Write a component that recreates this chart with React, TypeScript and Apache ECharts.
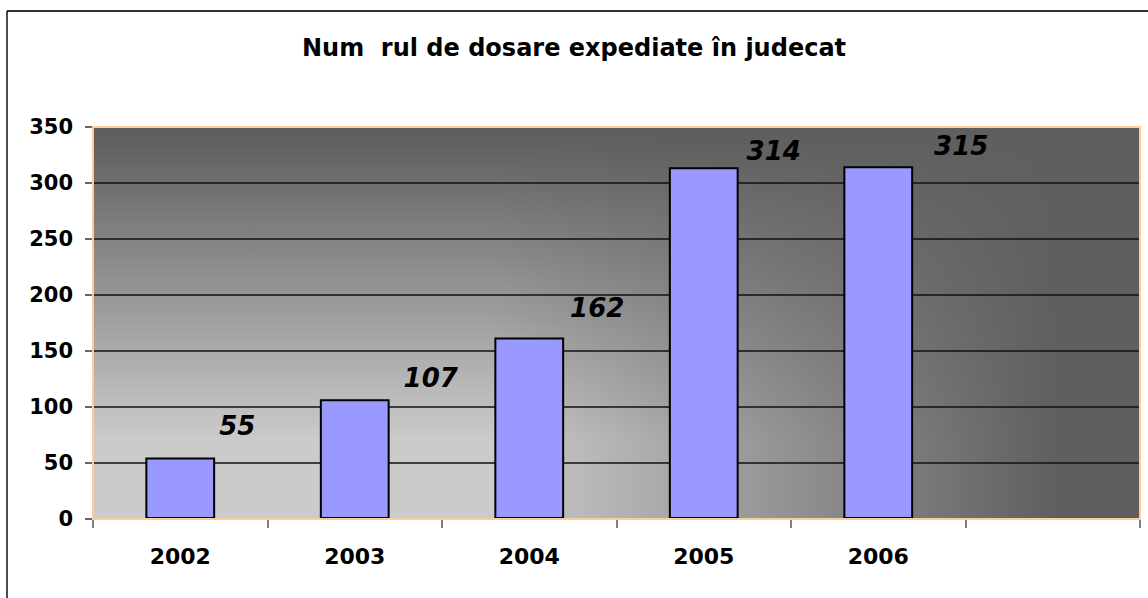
import React, { useEffect, useRef } from "react";
import * as echarts from "echarts";

const titleText = "Num  rul de dosare expediate în judecat";
const categories = ["2002", "2003", "2004", "2005", "2006", ""];
const values = [55, 107, 162, 314, 315];
const yTicks = { min: 0, max: 350, interval: 50 };
// manual label placement offsets (styling, as in the original chart)
const labelOffsets = [
  [57, -31],
  [76, -21],
  [68, -30],
  [70, -16],
  [83, -20],
];

const GRID = { left: 93, top: 127, right: 8, bottom: 79 };
const W = 1148;
const H = 598;

export default function App() {
  const ref = useRef<HTMLDivElement>(null);
  useEffect(() => {
    document.body.style.margin = "0";
    const chart = echarts.init(ref.current!, null, { renderer: "svg" });
    const gx = GRID.left;
    const gy = GRID.top;
    const gw = W - GRID.left - GRID.right;
    const gh = H - GRID.top - GRID.bottom;
    const dark = "95,95,95";
    chart.setOption({
      animation: false,
      backgroundColor: "#ffffff",
      title: {
        text: titleText,
        left: "center",
        top: 31,
        textStyle: {
          fontFamily: "DejaVu Sans",
          fontWeight: "bold",
          fontSize: 24,
          color: "#000",
        },
      },
      graphic: [
        {
          type: "rect",
          z: -10,
          silent: true,
          shape: { x: gx, y: gy, width: gw, height: gh },
          style: { fill: "#cbcbcb" },
        },
        {
          type: "rect",
          z: -9,
          silent: true,
          shape: { x: gx, y: gy, width: gw, height: gh },
          style: {
            fill: {
              type: "linear",
              x: 0,
              y: 1,
              x2: 0,
              y2: 0,
              colorStops: [
                { offset: 0, color: `rgba(${dark},0)` },
                { offset: 0.2, color: `rgba(${dark},0)` },
                { offset: 0.97, color: `rgba(${dark},1)` },
                { offset: 1, color: `rgba(${dark},1)` },
              ],
            },
          },
        },
        {
          type: "rect",
          z: -8,
          silent: true,
          shape: { x: gx, y: gy, width: gw, height: gh },
          style: {
            fill: {
              type: "linear",
              x: 0,
              y: 0,
              x2: 1,
              y2: 0,
              colorStops: [
                { offset: 0, color: `rgba(${dark},0)` },
                { offset: 0.38, color: `rgba(${dark},0)` },
                { offset: 0.92, color: `rgba(${dark},1)` },
                { offset: 1, color: `rgba(${dark},1)` },
              ],
            },
          },
        },
        {
          type: "line",
          z: 10,
          silent: true,
          shape: { x1: 7, y1: 11, x2: W, y2: 11 },
          style: { stroke: "#333", lineWidth: 2 },
        },
        {
          type: "line",
          z: 10,
          silent: true,
          shape: { x1: 7, y1: 11, x2: 7, y2: H },
          style: { stroke: "#111", lineWidth: 1.5 },
        },
      ],
      grid: {
        left: GRID.left,
        top: GRID.top,
        right: GRID.right,
        bottom: GRID.bottom,
        show: true,
        z: 5,
        borderColor: "#ffcc99",
        borderWidth: 2,
        backgroundColor: "transparent",
      },
      xAxis: {
        type: "category",
        data: categories,
        boundaryGap: true,
        axisLine: { show: true, lineStyle: { color: "#c08a5a", width: 2 } },
        axisTick: {
          show: true,
          alignWithLabel: false,
          length: 9,
          lineStyle: { color: "#555", width: 1.5 },
        },
        axisLabel: {
          margin: 26,
          fontFamily: "DejaVu Sans",
          fontWeight: "bold",
          fontSize: 22,
          color: "#000",
        },
        splitLine: { show: false },
      },
      yAxis: {
        type: "value",
        min: yTicks.min,
        max: yTicks.max,
        interval: yTicks.interval,
        axisLine: { show: true, lineStyle: { color: "#a0704a", width: 2 } },
        axisTick: { show: true, length: 8, lineStyle: { color: "#333", width: 1.5 } },
        axisLabel: {
          margin: 20,
          fontFamily: "DejaVu Sans",
          fontWeight: "bold",
          fontSize: 21,
          color: "#000",
        },
        splitLine: { show: true, lineStyle: { color: "#111", width: 1.5 } },
      },
      series: [
        {
          type: "bar",
          barWidth: "40%",
          data: values.map((v, i) => ({
            value: v,
            label: { offset: labelOffsets[i] },
          })),
          itemStyle: { color: "#9999ff", borderColor: "#000", borderWidth: 2 },
          label: {
            show: true,
            position: "top",
            distance: 0,
            verticalAlign: "middle",
            fontFamily: "DejaVu Sans",
            fontWeight: "bold",
            fontStyle: "italic",
            fontSize: 26,
            color: "#000",
          },
        },
      ],
    });
    return () => chart.dispose();
  }, []);
  return <div ref={ref} style={{ width: W, height: H }} />;
}
